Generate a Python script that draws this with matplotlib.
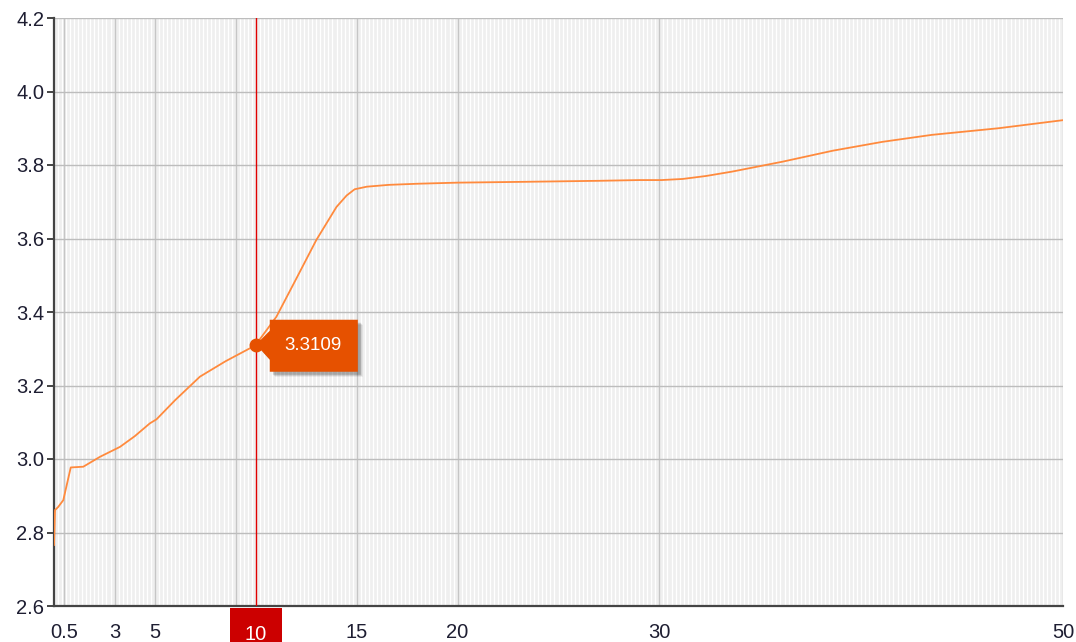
import matplotlib
matplotlib.use("Agg")
import matplotlib.pyplot as plt
import matplotlib.transforms as mtransforms
from matplotlib.patches import Polygon, Rectangle
import numpy as np

plt.rcParams['font.family'] = ['Liberation Sans', 'DejaVu Sans']

# ---- data ----
x_vals = [0.0, 0.05, 0.2, 0.46, 0.83, 1.45, 2.28, 3.27, 4.0, 4.75, 5.08, 6.0, 7.23,
          8.5, 9.87, 10.0, 11.02, 12.0, 13.0, 14.0, 14.5, 14.9, 15.5, 16.6, 18.0,
          20.0, 23.0, 27.0, 29.0, 30.1, 31.15, 32.3, 33.6, 36.1, 38.6, 41.05,
          43.5, 46.8, 50.0]
y_vals = [2.766, 2.861, 2.869, 2.888, 2.977, 2.979, 3.006, 3.033, 3.062, 3.097, 3.108, 3.160, 3.224,
          3.266, 3.306, 3.3109, 3.387, 3.490, 3.596, 3.686, 3.717, 3.734, 3.741, 3.746, 3.749,
          3.752, 3.754, 3.757, 3.759, 3.759, 3.762, 3.770, 3.782, 3.809, 3.839, 3.863,
          3.882, 3.900, 3.922]

xtick_values = [0.5, 3, 5, 15, 20, 30, 50]
xtick_labels = ["0.5", "3", "5", "15", "20", "30", "50"]
xgrid_values = [0.5, 3, 5, 9, 15, 20, 30, 50]
ytick_values = [2.6, 2.8, 3.0, 3.2, 3.4, 3.6, 3.8, 4.0, 4.2]
ytick_labels = ["2.6", "2.8", "3.0", "3.2", "3.4", "3.6", "3.8", "4.0", "4.2"]

cursor_x = 10
cursor_y = 3.3109
cursor_label = "10"
tooltip_text = "3.3109"

# ---- figure ----
W, H, DPI = 1076, 642, 100
fig = plt.figure(figsize=(W / DPI, H / DPI), dpi=DPI)
ax = fig.add_axes([54 / W, 36 / H, (1063 - 54) / W, (606 - 18) / H])
ax.set_xlim(0, 50)
ax.set_ylim(2.6, 4.2)
ax.set_facecolor('#efefef')

# minor white vertical lines
for mx in np.arange(0, 50.01, 0.2):
    ax.axvline(mx, color='white', lw=0.9, zorder=0.5)
# major grid
for gx in xgrid_values:
    ax.axvline(gx, color='#c6c6c6', lw=1.0, zorder=0.8)
for gy in ytick_values:
    ax.axhline(gy, color='#bdbdbd', lw=1.0, zorder=0.8)

ax.plot(x_vals, y_vals, color='#ff8a3d', lw=1.3, zorder=3, solid_joinstyle='round')

# cursor line
ax.axvline(cursor_x, color='#e00000', lw=1.0, zorder=4)

# spines
for s in ['top', 'right']:
    ax.spines[s].set_visible(False)
ax.spines['left'].set_color('#444444')
ax.spines['left'].set_linewidth(1.6)
ax.spines['bottom'].set_color('#444444')
ax.spines['bottom'].set_linewidth(1.6)

ax.set_yticks(ytick_values)
ax.set_yticklabels(ytick_labels)
ax.set_xticks(xtick_values)
ax.set_xticklabels(xtick_labels)
ax.tick_params(axis='y', length=5, width=1.4, color='#444444', labelsize=14.5,
               labelcolor='#1e1e32', pad=2)
ax.tick_params(axis='x', length=0, labelsize=14.5, labelcolor='#1e1e32', pad=12)
for lbl in ax.get_xticklabels():
    if lbl.get_text() == "0.5":
        lbl.set_x(0.6)

# ---- tooltip tag ----
pt_trans = mtransforms.ScaledTranslation(cursor_x, cursor_y, ax.transData)
pix = mtransforms.Affine2D() + pt_trans
tag = [(14, 25), (102, 25), (102, -27), (14, -27), (14, -15), (4, -4), (4, 4), (14, 14)]
for k, a in [(5, 0.08), (4, 0.12), (3, 0.15)]:
    ax.add_patch(Polygon([(vx + k, vy - k) for vx, vy in tag], closed=True, transform=pix,
                         facecolor='black', alpha=a, edgecolor='none', zorder=5, clip_on=False))
ax.add_patch(Polygon(tag, closed=True, transform=pix, facecolor='#e65100',
                     edgecolor='none', zorder=6, clip_on=False))
ax.plot([cursor_x], [cursor_y], 'o', color='#e65100', ms=9, zorder=7)
ax.text(57, -1, tooltip_text, transform=pix, color='white', fontsize=13.5,
        ha='center', va='center', zorder=8)

# ---- cursor x label ----
bot_trans = mtransforms.ScaledTranslation(cursor_x, 2.6, ax.transData)
bpix = mtransforms.Affine2D() + bot_trans
ax.add_patch(Rectangle((-26, -45), 52, 43, transform=bpix, facecolor='#cc0000',
                       edgecolor='none', zorder=6, clip_on=False))
ax.text(0, -28, cursor_label, transform=bpix, color='white', fontsize=14.5,
        ha='center', va='center', zorder=7)

fig.savefig('out.png', dpi=DPI)
